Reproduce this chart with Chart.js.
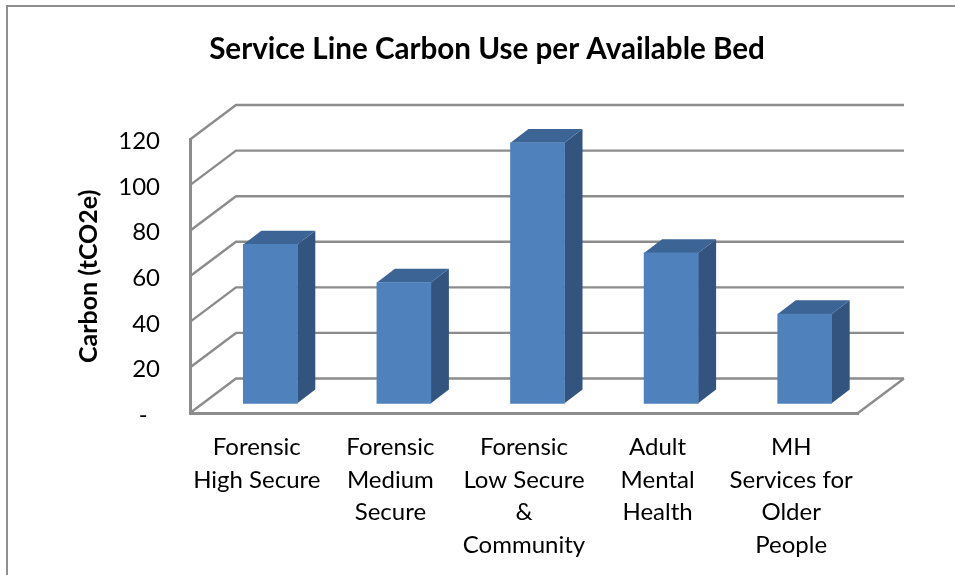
<!DOCTYPE html>
<html>
<head>
<meta charset="utf-8">
<style>html,body{margin:0;padding:0;background:#fff}#wrap{position:relative;width:955px;height:575px}</style>
<script src="https://cdn.jsdelivr.net/npm/chart.js@4"></script>
</head>
<body>
<div id="wrap"><canvas id="c" width="955" height="575"></canvas></div>
<script>
const categories = [
  ['Forensic','High Secure'],
  ['Forensic','Medium','Secure'],
  ['Forensic','Low Secure','&','Community'],
  ['Adult','Mental','Health'],
  ['MH','Services for','Older','People']
];
const carbonValues = [69.7, 53.0, 114.3, 66, 39.2];
const chartTitle = 'Service Line Carbon Use per Available Bed';
const yAxisTitle = 'Carbon (tCO2e)';

const FONT = 'Lato, Carlito, sans-serif';
const GRID = '#8c8c8c';
const WALL = {dx: 46, dy: -34.5};
const BAR_OFFSET = {dx: 13.5, dy: -9.7};
const BAR_DEPTH = {dx: 18, dy: -13.7};

const depthPlugin = {
  id: 'depth',
  beforeDraw(chart) {
    const c = chart.ctx;
    c.save();
    c.fillStyle = '#8e8e8e';
    c.fillRect(6, 5, 949, 2);
    c.fillRect(6, 5, 2, 570);
    c.restore();
  },
  afterLayout(chart) {
    chart.titleBlock.left = 116;
  },
  beforeDatasetsDraw(chart) {
    const c = chart.ctx, ya = chart.scales.y, a = chart.chartArea;
    c.save();
    c.strokeStyle = GRID;
    c.lineWidth = 2.4;
    ya.ticks.forEach(t => {
      const y = ya.getPixelForValue(t.value);
      c.beginPath();
      c.moveTo(a.left, y);
      c.lineTo(a.left + WALL.dx, y + WALL.dy);
      c.lineTo(a.right + WALL.dx, y + WALL.dy);
      c.stroke();
    });
    const y0 = ya.getPixelForValue(0);
    c.beginPath();
    c.moveTo(a.right, y0);
    c.lineTo(a.right + WALL.dx, y0 + WALL.dy);
    c.stroke();
    c.restore();

    c.save();
    c.translate(BAR_OFFSET.dx, BAR_OFFSET.dy);
    chart.getDatasetMeta(0).data.forEach(el => {
      const p = el.getProps(['x','y','base','width'], true);
      const l = p.x - p.width / 2, r = p.x + p.width / 2;
      c.fillStyle = '#32547f';
      c.beginPath();
      c.moveTo(r, p.y); c.lineTo(r + BAR_DEPTH.dx, p.y + BAR_DEPTH.dy);
      c.lineTo(r + BAR_DEPTH.dx, p.base + BAR_DEPTH.dy); c.lineTo(r, p.base);
      c.closePath(); c.fill();
      c.fillStyle = '#3c6494';
      c.beginPath();
      c.moveTo(l, p.y); c.lineTo(l + BAR_DEPTH.dx, p.y + BAR_DEPTH.dy);
      c.lineTo(r + BAR_DEPTH.dx, p.y + BAR_DEPTH.dy); c.lineTo(r, p.y);
      c.closePath(); c.fill();
    });
  },
  afterDatasetsDraw(chart) {
    chart.ctx.restore();
  }
};

new Chart(document.getElementById('c'), {
  type: 'bar',
  data: {
    labels: categories,
    datasets: [{
      data: carbonValues,
      backgroundColor: '#4f81bd',
      borderWidth: 0,
      barThickness: 54,
      clip: false
    }]
  },
  plugins: [depthPlugin],
  options: {
    responsive: false,
    animation: false,
    layout: {padding: {left: 0, right: 97, top: 0, bottom: 0}},
    plugins: {
      legend: {display: false},
      tooltip: {enabled: false},
      title: {
        display: true,
        text: chartTitle,
        color: '#000',
        font: {family: FONT, size: 29.6, weight: 'bold', lineHeight: 1.2},
        padding: {top: 32, bottom: 72}
      }
    },
    scales: {
      x: {
        grid: {display: false},
        border: {display: true, color: GRID, width: 3},
        afterFit(s) { s.height = 162; },
        ticks: {
          color: '#000',
          maxRotation: 0,
          autoSkip: false,
          padding: 10.5,
          font: {family: FONT, size: 24, lineHeight: 1.354}
        }
      },
      y: {
        min: 0,
        max: 120,
        grid: {display: false},
        border: {display: true, color: GRID, width: 3},
        afterFit(s) { s.width = 190; },
        title: {
          display: true,
          text: yAxisTitle,
          color: '#000',
          font: {family: FONT, size: 25, weight: 'bold', lineHeight: 1.2},
          padding: {top: 74, bottom: 0}
        },
        ticks: {
          stepSize: 20,
          color: '#000',
          padding: 22,
          labelOffset: 2,
          font: {family: FONT, size: 24},
          callback: v => v === 0 ? '-  ' : String(v)
        }
      }
    }
  }
});
</script>
</body>
</html>
